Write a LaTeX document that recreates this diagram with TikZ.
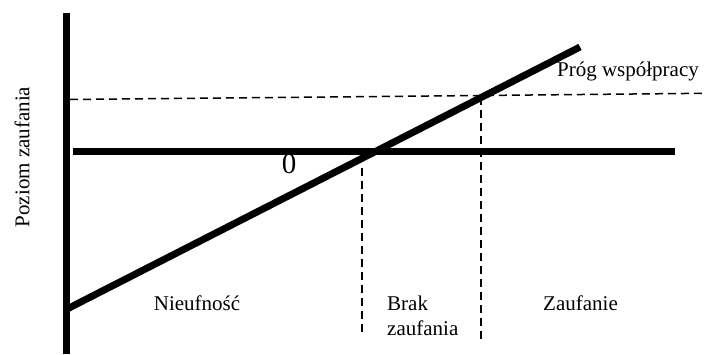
\documentclass[tikz,border=0pt]{standalone}
\usepackage{fontspec}
\setmainfont{Liberation Serif}
\begin{document}
\begin{tikzpicture}[x=1bp,y=-1bp,
  thickline/.style={line width=7bp, black},
  dashline/.style={line width=1.5bp, black, dash pattern=on 8bp off 5bp},
  lbl/.style={inner sep=0pt, font=\fontsize{21bp}{25bp}\selectfont}]
\useasboundingbox (0,0) rectangle (704,354);
% coordinates
\coordinate (ytop) at (66.5,13);
\coordinate (ybot) at (66.5,354);
\coordinate (hl) at (73,151.5);
\coordinate (hr) at (675,151.5);
\coordinate (dl) at (70,99.5);
\coordinate (dr) at (704,93.3);
\coordinate (gs) at (67,309);
\coordinate (ge) at (580,47);
\coordinate (v1t) at (362,168);
\coordinate (v1b) at (362,333);
\coordinate (v2t) at (481,97);
\coordinate (v2b) at (481,341);
% dashed lines
\draw[dashline] (dl) -- (dr);
\draw[dashline] (v1t) -- (v1b);
\draw[dashline] (v2t) -- (v2b);
% thick lines
\draw[thickline] (ytop) -- (ybot);
\draw[thickline] (hl) -- (hr);
\draw[thickline] (gs) -- (ge);
% labels
\node[lbl, rotate=90] (ylab) at (22,157) {Poziom zaufania};
\node[lbl, font=\fontsize{29bp}{32bp}\selectfont] (zero) at (289,164) {0};
\node[lbl] (prog) at (628,71) {Próg współpracy};
\node[lbl] (nieuf) at (197,303) {Nieufność};
\node[lbl, align=left, anchor=west] (brak) at (387,316) {Brak\\zaufania};
\node[lbl, anchor=west] (zauf) at (543,303) {Zaufanie};
\end{tikzpicture}
\end{document}
